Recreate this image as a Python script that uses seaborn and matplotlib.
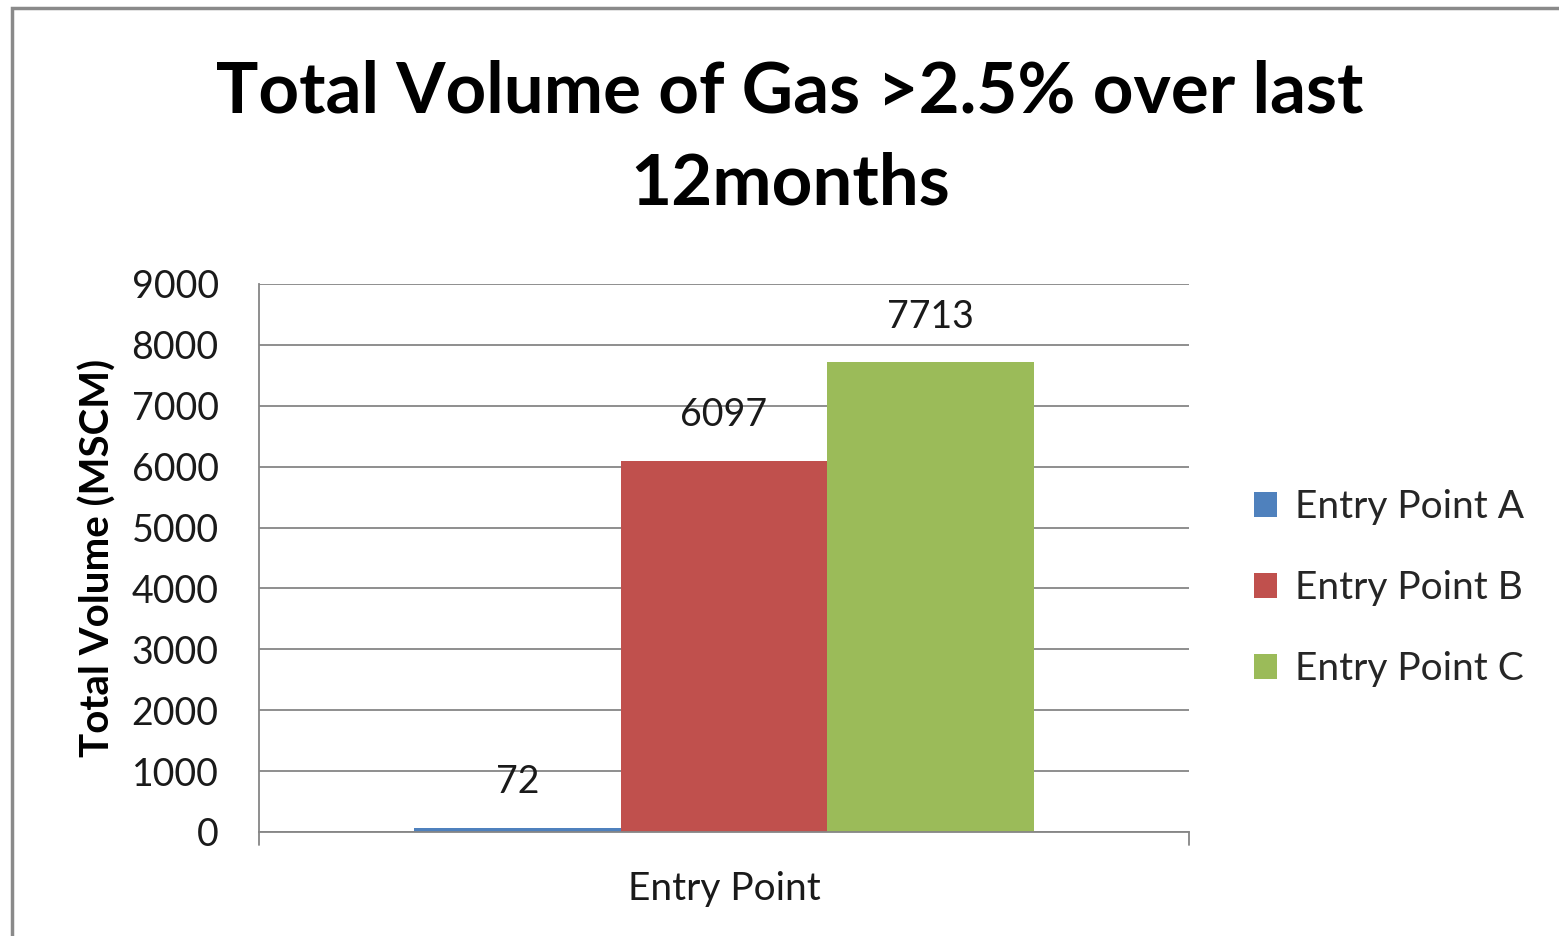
import pandas as pd
import seaborn as sns
import matplotlib.pyplot as plt
from matplotlib.patches import Rectangle

categories = ['Entry Point A', 'Entry Point B', 'Entry Point C']
volumes = [72, 6097, 7713]
colors = ['#4F81BD', '#C0504D', '#9BBB59']
yticks = [0, 1000, 2000, 3000, 4000, 5000, 6000, 7000, 8000, 9000]

df = pd.DataFrame({'group': ['Entry Point'] * 3, 'point': categories, 'volume': volumes})

sns.set_style('white')
plt.rcParams['font.family'] = ['Lato', 'DejaVu Sans']

fig = plt.figure(figsize=(15.59, 9.36), dpi=100)
ax = fig.add_axes([259 / 1559, 1 - 832 / 936, 930 / 1559, 548 / 936])

sns.barplot(data=df, x='group', y='volume', hue='point', palette=colors,
            width=2 / 3, saturation=1, linewidth=0, ax=ax, legend=True)
ax.set_xlim(-0.5, 0.5)
ax.set_ylim(0, 9000)
ax.set_yticks(yticks)
ax.yaxis.grid(True, color='#868686', linewidth=1.3)
ax.set_axisbelow(True)

for c in ax.containers:
    ax.bar_label(c, padding=20, fontsize=27, color='#1a1a1a')

for s in ['top', 'right']:
    ax.spines[s].set_visible(False)
for s in ['left', 'bottom']:
    ax.spines[s].set_color('#868686')
    ax.spines[s].set_linewidth(1.3)

ax.tick_params(axis='y', length=12, width=1.3, color='#868686', labelsize=27,
               labelcolor='#1a1a1a', pad=17)
ax.set_xticks([])
ax.plot([1, 1], [0, -0.024], transform=ax.transAxes, color='#868686', lw=1.3, clip_on=False)
ax.plot([0, 0], [0, -0.024], transform=ax.transAxes, color='#868686', lw=1.3, clip_on=False)

ax.set_xlabel('Entry Point', fontsize=28, labelpad=28, color='#1a1a1a')
ax.set_ylabel('Total Volume (MSCM)', fontsize=29, fontweight='bold', labelpad=11, color='black')

leg = ax.legend(loc='center left', bbox_to_anchor=(1.032, 0.445), frameon=False,
                fontsize=28, handlelength=0.6, handleheight=0.6, handletextpad=0.45,
                labelspacing=1.15)

fig.suptitle('Total Volume of Gas >2.5% over last\n12months', fontsize=51,
             fontweight='bold', x=790 / 1559, y=0.936, linespacing=1.5, color='black')

fig.patches.append(Rectangle((12 / 1559, -0.1), 1.2, 1 - 8 / 936 + 0.1, transform=fig.transFigure,
                             fill=False, edgecolor='#8a8a8a', linewidth=2.5))

fig.savefig('out.png', dpi=100)
